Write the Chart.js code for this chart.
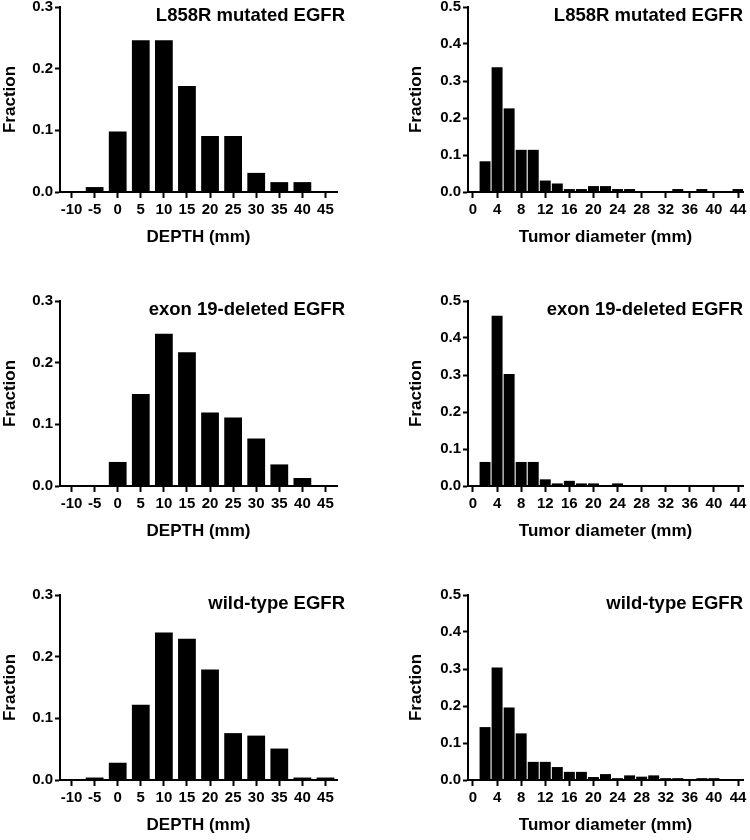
<!DOCTYPE html>
<html><head><meta charset="utf-8">
<script src="https://cdn.jsdelivr.net/npm/chart.js@4.4.1/dist/chart.umd.min.js"></script>
<style>
html,body{margin:0;padding:0;background:#fff;overflow:hidden;width:750px;height:840px;}
.p{position:absolute;width:375px;height:294px;}
canvas{display:block;}
</style></head><body>
<div class="p" style="left:0;top:0"><canvas id="c1" width="375" height="294"></canvas></div>
<div class="p" style="left:375px;top:0"><canvas id="c2" width="375" height="294"></canvas></div>
<div class="p" style="left:0;top:294px"><canvas id="c3" width="375" height="294"></canvas></div>
<div class="p" style="left:375px;top:294px"><canvas id="c4" width="375" height="294"></canvas></div>
<div class="p" style="left:0;top:588px"><canvas id="c5" width="375" height="294"></canvas></div>
<div class="p" style="left:375px;top:588px"><canvas id="c6" width="375" height="294"></canvas></div>
<script>
// ---- data ----
const depthBins = [-10, -5, 0, 5, 10, 15, 20, 25, 30, 35, 40, 45];
const depthTicks = [-10, -5, 0, 5, 10, 15, 20, 25, 30, 35, 40, 45];
const diameterBins = [2, 4, 6, 8, 10, 12, 14, 16, 18, 20, 22, 24, 26, 28, 30, 32, 34, 36, 38, 40, 42, 44];
const diameterTicks = [0, 4, 8, 12, 16, 20, 24, 28, 32, 36, 40, 44];
const fractionTicksDepth = [0, 0.1, 0.2, 0.3];
const fractionTicksDiameter = [0, 0.1, 0.2, 0.3, 0.4, 0.5];

const depthL858R = [0, 0.008, 0.098, 0.246, 0.246, 0.172, 0.091, 0.091, 0.031, 0.016, 0.016, 0];
const depthExon19 = [0, 0, 0.039, 0.149, 0.247, 0.217, 0.119, 0.111, 0.077, 0.035, 0.013, 0];
const depthWildType = [0, 0.004, 0.028, 0.122, 0.239, 0.229, 0.179, 0.076, 0.072, 0.051, 0.004, 0.004];

const diameterL858R = [0.083, 0.337, 0.226, 0.114, 0.114, 0.031, 0.023, 0.008, 0.008, 0.016, 0.016, 0.008, 0.008, 0, 0, 0, 0.008, 0, 0.008, 0, 0, 0.008];
const diameterExon19 = [0.065, 0.46, 0.303, 0.065, 0.065, 0.018, 0.007, 0.014, 0.007, 0.007, 0, 0.007, 0, 0, 0, 0, 0, 0, 0, 0, 0, 0];
const diameterWildType = [0.143, 0.304, 0.196, 0.126, 0.049, 0.049, 0.035, 0.022, 0.022, 0.008, 0.016, 0.005, 0.0125, 0.009, 0.0125, 0.005, 0.005, 0, 0.005, 0.005, 0, 0];

const panelTitles = ['L858R mutated EGFR', 'exon 19-deleted EGFR', 'wild-type EGFR'];
const depthAxisTitle = 'DEPTH (mm)';
const diameterAxisTitle = 'Tumor diameter (mm)';
const yAxisTitle = 'Fraction';

// ---- rendering ----
const FONT = "'Liberation Sans', Arial, Helvetica, sans-serif";
Chart.defaults.font.family = FONT;
Chart.defaults.font.weight = 'bold';
Chart.defaults.color = '#000';

const panelTitlePlugin = {
  id: 'panelTitle',
  afterDraw(chart, args, opts) {
    const ctx = chart.ctx;
    ctx.save();
    ctx.font = 'bold 18.5px ' + FONT;
    ctx.fillStyle = '#000';
    ctx.textAlign = 'right';
    ctx.textBaseline = 'alphabetic';
    ctx.fillText(opts.text, opts.x, chart.chartArea.top + opts.dy);
    ctx.restore();
  }
};

function makePanel(id, kind, values, title) {
  const isDepth = kind === 'depth';
  const bins = isDepth ? depthBins : diameterBins;
  const xTicks = isDepth ? depthTicks : diameterTicks;
  const yTicks = isDepth ? fractionTicksDepth : fractionTicksDiameter;
  const data = bins.map((b, i) => ({ x: b, y: values[i] }));
  new Chart(document.getElementById(id), {
    type: 'bar',
    data: {
      datasets: [{
        data: data,
        backgroundColor: '#000',
        borderWidth: 0,
        categoryPercentage: 1,
        barPercentage: isDepth ? 0.77 : 0.91
      }]
    },
    plugins: [panelTitlePlugin],
    options: {
      responsive: false,
      animation: false,
      devicePixelRatio: 1,
      layout: { padding: { top: 7, bottom: 0, left: isDepth ? 0 : 31, right: isDepth ? 38 : 7 } },
      plugins: {
        legend: { display: false },
        tooltip: { enabled: false },
        panelTitle: { text: title, x: isDepth ? 345 : 368, dy: 13.5 }
      },
      scales: {
        x: {
          type: 'linear',
          offset: false,
          min: isDepth ? -12.5 : -0.83,
          max: isDepth ? 47.5 : 44.83,
          afterBuildTicks: s => { s.ticks = xTicks.map(v => ({ value: v })); },
          afterFit: s => { s.height = 102; s.paddingLeft = 0; s.paddingRight = 0; },
          ticks: {
            autoSkip: false, maxRotation: 0, padding: 3,
            font: { size: 15, weight: 'bold' },
            callback: v => String(v)
          },
          grid: { offset: false, drawOnChartArea: false, drawTicks: true, tickLength: 6, tickWidth: 2, tickColor: '#000' },
          border: { display: true, width: 2, color: '#000' },
          title: { display: true, text: isDepth ? depthAxisTitle : diameterAxisTitle,
                   font: { size: 17, weight: 'bold' }, padding: { top: 0, bottom: 46 } }
        },
        y: {
          type: 'linear',
          min: 0,
          max: isDepth ? 0.3 : 0.5,
          afterBuildTicks: s => { s.ticks = yTicks.map(v => ({ value: v })); },
          afterFit: s => { s.width = isDepth ? 60 : 62; s.paddingTop = 0; s.paddingBottom = 0; },
          ticks: {
            padding: 2,
            font: { size: 15, weight: 'bold' },
            callback: v => Number(v).toFixed(1)
          },
          grid: { drawOnChartArea: false, drawTicks: true, tickLength: 5, tickWidth: 2, tickColor: '#000' },
          border: { display: true, width: 2, color: '#000' },
          title: { display: true, text: yAxisTitle, font: { size: 17, weight: 'bold' }, padding: { top: 0, bottom: 0 } }
        }
      }
    }
  });
}

makePanel('c1', 'depth', depthL858R, panelTitles[0]);
makePanel('c2', 'diameter', diameterL858R, panelTitles[0]);
makePanel('c3', 'depth', depthExon19, panelTitles[1]);
makePanel('c4', 'diameter', diameterExon19, panelTitles[1]);
makePanel('c5', 'depth', depthWildType, panelTitles[2]);
makePanel('c6', 'diameter', diameterWildType, panelTitles[2]);
</script>
</body></html>
